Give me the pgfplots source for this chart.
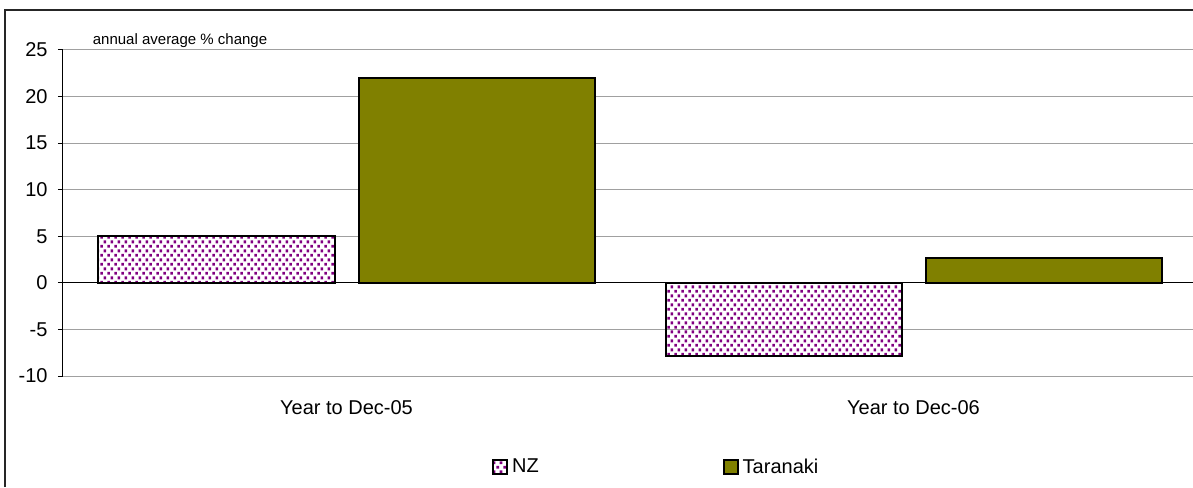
\documentclass[border=0pt]{standalone}
\usepackage{pgfplots}
\pgfplotsset{compat=1.18}
\usepackage{fontspec}
\setmainfont{Liberation Sans}
\usetikzlibrary{patterns}
\definecolor{nzpurple}{RGB}{128,0,128}
\definecolor{olivebar}{RGB}{128,128,0}
\definecolor{gridgray}{RGB}{160,160,160}
\pgfdeclarepatternformonly{nzdots}{\pgfpointorigin}{\pgfpoint{3.6pt}{4.7pt}}{\pgfpoint{3.6pt}{4.7pt}}{%
  \pgfpathrectangle{\pgfpoint{0.15pt}{0.15pt}}{\pgfpoint{1.5pt}{1.5pt}}%
  \pgfpathrectangle{\pgfpoint{1.95pt}{2.5pt}}{\pgfpoint{1.5pt}{1.5pt}}%
  \pgfusepath{fill}}
\begin{document}
\begin{tikzpicture}
\useasboundingbox (0pt,0pt) rectangle (596.5pt,243.5pt);
\draw[line width=1pt, black!85] (2.5pt,0pt) -- (2.5pt,238.5pt) -- (597pt,238.5pt);
\begin{axis}[
  at={(31.5pt,55.5pt)}, anchor=south west,
  scale only axis, width=567pt, height=163pt,
  xmin=-0.5, xmax=1.5, ymin=-10, ymax=25,
  axis x line=none,
  axis y line*=left,
  y axis line style={line width=0.5pt, -},
  ytick={-10,-5,0,5,10,15,20,25},
  tick align=outside,
  major tick length=2.5pt,
  major tick style={line width=0.5pt, black},
  ymajorgrids,
  grid style={gridgray, line width=0.5pt},
  yticklabel style={font=\fontsize{10}{12}\selectfont, xshift=-1.7pt},
  /pgf/number format/assume math mode=true,
  clip=false,
  legend columns=2,
  legend style={at={(0.378,-0.28)}, anchor=west, draw=none, fill=none,
    font=\fontsize{10}{12}\selectfont, inner sep=0pt,
    /tikz/every even column/.append style={column sep=90pt}},
  legend image code/.code={\draw[#1] (0pt,-3.5pt) rectangle (7pt,3.5pt);},
]
\addplot[ybar, bar width=118pt, bar shift=-65pt, draw=black, line width=1pt, pattern=nzdots, pattern color=nzpurple]
  coordinates {(0,5.0) (1,-7.9)};
\addlegendentry{NZ}
\addplot[ybar, bar width=118pt, bar shift=65pt, draw=black, line width=1pt, fill=olivebar]
  coordinates {(0,22.0) (1,2.65)};
\addlegendentry{Taranaki}
\draw[black, line width=0.5pt] (axis cs:-0.5,0) -- (axis cs:1.5,0);
\node[anchor=north, font=\fontsize{10}{12}\selectfont] at (axis cs:0,-10) [yshift=-8.5pt] {Year to Dec-05};
\node[anchor=north, font=\fontsize{10}{12}\selectfont] at (axis cs:1,-10) [yshift=-8.5pt] {Year to Dec-06};
\node[anchor=base west, font=\fontsize{7.5}{9}\selectfont, inner sep=0pt] at (rel axis cs:0.026,1) [yshift=2.5pt] {annual average \% change};
\end{axis}
\end{tikzpicture}
\end{document}
